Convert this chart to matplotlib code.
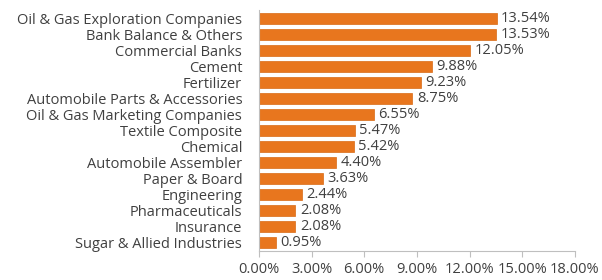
import matplotlib
matplotlib.use("Agg")
import matplotlib.pyplot as plt
from matplotlib.ticker import FuncFormatter

categories = [
    "Oil & Gas Exploration Companies",
    "Bank Balance & Others",
    "Commercial Banks",
    "Cement",
    "Fertilizer",
    "Automobile Parts & Accessories",
    "Oil & Gas Marketing Companies",
    "Textile Composite",
    "Chemical",
    "Automobile Assembler",
    "Paper & Board",
    "Engineering",
    "Pharmaceuticals",
    "Insurance",
    "Sugar & Allied Industries",
]
values = [13.54, 13.53, 12.05, 9.88, 9.23, 8.75, 6.55, 5.47, 5.42, 4.40, 3.63, 2.44, 2.08, 2.08, 0.95]
xticks = [0, 3, 6, 9, 12, 15, 18]

plt.rcParams['font.family'] = ['Open Sans', 'DejaVu Sans']
txt = '#404040'
fs = 10.5

fig = plt.figure(figsize=(6.02, 2.8), dpi=100)
ax = fig.add_axes([0.430, 0.105, 0.525, 0.859])

y = list(range(len(categories)))
ax.barh(y, values, height=0.68, color='#E8761E', edgecolor='#D96A14', linewidth=0.5)
for yi, v in zip(y, values):
    ax.text(v + 0.25, yi, f"{v:.2f}%", va='center', ha='left', fontsize=fs, color=txt)

ax.set_yticks(y)
ax.set_yticklabels(categories, fontsize=fs, color=txt)
ax.set_ylim(len(categories) - 0.5, -0.5)
ax.set_xlim(0, 18)
ax.set_xticks(xticks)
ax.xaxis.set_major_formatter(FuncFormatter(lambda v, p: f"{v:.2f}%"))
ax.tick_params(axis='x', labelsize=fs, labelcolor=txt, color='#BFBFBF', length=4, pad=4)
ax.tick_params(axis='y', length=0, pad=12)
for s in ['top', 'right']:
    ax.spines[s].set_visible(False)
for s in ['left', 'bottom']:
    ax.spines[s].set_color('#BFBFBF')
    ax.spines[s].set_linewidth(0.8)

fig.savefig('out.png', dpi=100)
